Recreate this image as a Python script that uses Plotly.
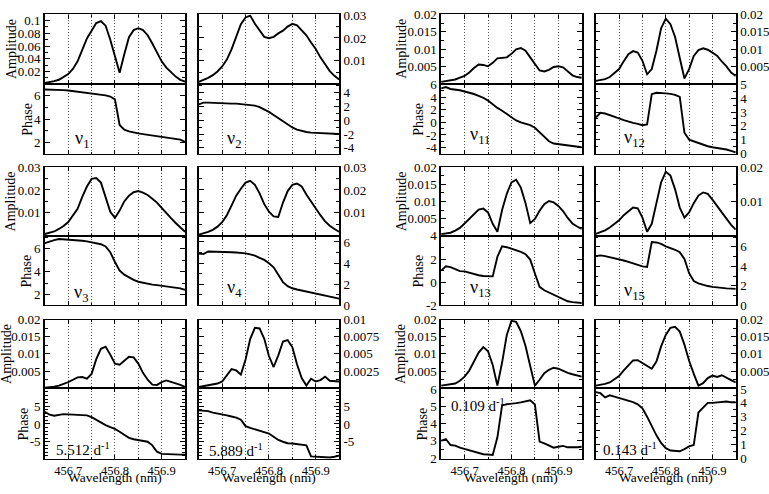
import plotly.graph_objects as go

# ---------------- data (wavelength grid, nm) ----------------
WAVELENGTH = [456.65, 456.66, 456.67, 456.68, 456.69, 456.70, 456.71, 456.72, 456.73, 456.74,
              456.75, 456.76, 456.77, 456.78, 456.79, 456.80, 456.81, 456.82, 456.83, 456.84,
              456.85, 456.86, 456.87, 456.88, 456.89, 456.90, 456.91, 456.92, 456.93, 456.94, 456.95]

amp_nu1 = [0.002, 0.003, 0.005, 0.007, 0.011, 0.016, 0.024, 0.036, 0.054, 0.072, 0.084, 0.096, 0.099, 0.092, 0.07,
           0.042, 0.018, 0.047, 0.074, 0.085, 0.088, 0.085, 0.077, 0.064, 0.049, 0.036, 0.026, 0.019, 0.012, 0.007, 0.004]
phase_nu1 = [6.55, 6.55, 6.53, 6.52, 6.5, 6.47, 6.42, 6.37, 6.32, 6.28, 6.24, 6.18, 6.12, 6.05, 5.95,
             5.7, 3.5, 3.1, 2.95, 2.85, 2.78, 2.72, 2.66, 2.6, 2.55, 2.5, 2.45, 2.4, 2.35, 2.25, 2.05]

amp_nu2 = [0.0008, 0.0016, 0.0025, 0.0037, 0.0053, 0.0075, 0.0105, 0.015, 0.021, 0.026, 0.029, 0.0298, 0.0262, 0.0235, 0.0205,
           0.0199, 0.0205, 0.022, 0.0232, 0.025, 0.0262, 0.0255, 0.0235, 0.0212, 0.018, 0.0152, 0.0115, 0.0082, 0.0055, 0.0034, 0.0018]
phase_nu2 = [2.3, 2.55, 2.55, 2.5, 2.5, 2.45, 2.45, 2.4, 2.4, 2.35, 2.3, 2.22, 2.12, 1.9, 1.6,
             1.2, 0.75, 0.3, -0.2, -0.65, -1.05, -1.35, -1.55, -1.7, -1.8, -1.85, -1.88, -1.9, -1.92, -1.95, -2.0]

amp_nu11 = [0.0005, 0.0007, 0.0009, 0.0012, 0.0017, 0.0022, 0.0032, 0.0045, 0.0055, 0.0054, 0.005, 0.006, 0.0073, 0.0075, 0.0076,
            0.0086, 0.0099, 0.0103, 0.0095, 0.0076, 0.0055, 0.0038, 0.0035, 0.004, 0.0048, 0.005, 0.0047, 0.0034, 0.0024, 0.0019, 0.0017]
phase_nu11 = [5.4, 5.6, 5.3, 5.25, 5.1, 4.9, 4.75, 4.5, 4.2, 3.9, 3.45, 2.85, 2.3, 1.85, 1.35,
              0.8, 0.3, 0.0, -0.2, -0.45, -0.85, -1.6, -2.35, -3.0, -3.35, -3.45, -3.6, -3.75, -3.85, -3.9, -3.95]

amp_nu12 = [0.0008, 0.001, 0.0013, 0.0019, 0.003, 0.0042, 0.0065, 0.0085, 0.0094, 0.009, 0.0066, 0.0027, 0.0042, 0.0095, 0.016,
            0.0188, 0.0172, 0.0135, 0.0074, 0.0015, 0.0042, 0.008, 0.0097, 0.0102, 0.0098, 0.009, 0.0081, 0.0064, 0.005, 0.0032, 0.0022]
phase_nu12 = [2.6, 2.95, 2.9, 2.8, 2.65, 2.55, 2.42, 2.3, 2.22, 2.15, 2.05, 2.1, 4.3, 4.4, 4.4,
              4.36, 4.32, 4.25, 4.1, 1.5, 1.0, 0.88, 0.75, 0.62, 0.52, 0.45, 0.4, 0.35, 0.28, 0.18, 0.07]

amp_nu3 = [0.0008, 0.0012, 0.0019, 0.003, 0.0043, 0.006, 0.0088, 0.0118, 0.017, 0.0215, 0.0248, 0.0252, 0.0232, 0.0165, 0.0105,
           0.0078, 0.011, 0.015, 0.0175, 0.019, 0.0195, 0.0188, 0.0178, 0.0162, 0.0145, 0.0122, 0.0098, 0.0077, 0.0056, 0.0035, 0.0018]
phase_nu3 = [6.5, 6.65, 6.75, 6.85, 6.83, 6.8, 6.78, 6.75, 6.7, 6.65, 6.58, 6.5, 6.4, 6.2, 5.7,
             4.85, 4.1, 3.75, 3.5, 3.3, 3.13, 3.03, 2.95, 2.88, 2.83, 2.78, 2.75, 2.65, 2.65, 2.55, 2.42]

amp_nu4 = [0.0005, 0.001, 0.0017, 0.0026, 0.004, 0.006, 0.009, 0.0132, 0.0175, 0.0205, 0.0232, 0.024, 0.0222, 0.0185, 0.0138,
           0.0105, 0.0085, 0.0082, 0.0145, 0.0195, 0.0222, 0.0228, 0.0215, 0.018, 0.0148, 0.0118, 0.009, 0.0063, 0.0044, 0.003, 0.0018]
phase_nu4 = [4.9, 4.85, 5.1, 5.1, 5.08, 5.07, 5.05, 5.03, 5.0, 4.97, 4.92, 4.82, 4.7, 4.5, 4.3,
             3.98, 3.6, 2.9, 2.2, 1.82, 1.62, 1.5, 1.4, 1.3, 1.23, 1.16, 1.05, 0.95, 0.85, 0.75, 0.64]

amp_nu13 = [0.0005, 0.0007, 0.0009, 0.0015, 0.0023, 0.0036, 0.005, 0.0063, 0.0076, 0.0079, 0.0068, 0.0035, 0.0012, 0.0075, 0.0122,
            0.0155, 0.0163, 0.014, 0.0095, 0.0037, 0.0049, 0.0073, 0.0092, 0.0101, 0.0097, 0.0087, 0.0072, 0.0052, 0.0036, 0.0027, 0.002]
phase_nu13 = [1.0, 1.38, 1.3, 1.1, 0.95, 0.93, 0.8, 0.7, 0.6, 0.53, 0.5, 0.5, 2.2, 3.1, 3.02,
              2.9, 2.75, 2.62, 2.42, 1.95, 0.75, -0.4, -0.7, -0.9, -1.1, -1.3, -1.5, -1.65, -1.72, -1.78, -1.8]

amp_nu15 = [0.0006, 0.001, 0.0016, 0.0024, 0.0035, 0.0045, 0.006, 0.0072, 0.0082, 0.008, 0.0053, 0.0012, 0.0035, 0.0095, 0.0155,
            0.0186, 0.0175, 0.0135, 0.0082, 0.0053, 0.0068, 0.0095, 0.0117, 0.0126, 0.0122, 0.0105, 0.0088, 0.0068, 0.005, 0.0032, 0.0018]
phase_nu15 = [5.05, 5.12, 5.05, 4.95, 4.85, 4.73, 4.6, 4.45, 4.3, 4.15, 4.0, 3.95, 6.5, 6.45, 6.3,
              6.05, 5.9, 5.7, 5.45, 4.75, 3.3, 2.5, 2.25, 2.08, 1.98, 1.9, 1.83, 1.78, 1.74, 1.72, 1.69]

amp_f5512 = [0.0002, 0.0003, 0.0005, 0.0008, 0.0012, 0.0018, 0.0025, 0.0032, 0.0033, 0.0028, 0.0042, 0.0085, 0.0115, 0.0121, 0.0098,
             0.0072, 0.0069, 0.0082, 0.0092, 0.009, 0.0072, 0.0045, 0.0025, 0.0011, 0.001, 0.0018, 0.0023, 0.0019, 0.0015, 0.001, 0.0004]
phase_f5512 = [3.4, 2.6, 2.3, 2.55, 2.75, 2.7, 2.65, 2.6, 2.55, 2.4, 1.9, 1.1, 0.3, -0.3, -0.9,
               -1.4, -2.2, -3.1, -3.9, -4.3, -4.5, -4.65, -5.0, -6.0, -7.8, -8.4, -8.5, -8.55, -8.6, -8.6, -8.6]

amp_f5889 = [0.0002, 0.0003, 0.0004, 0.0005, 0.0007, 0.001, 0.0019, 0.0028, 0.0026, 0.002, 0.0042, 0.0072, 0.0088, 0.0087, 0.0072,
             0.0047, 0.0031, 0.0048, 0.0068, 0.007, 0.006, 0.0035, 0.0015, 0.0004, 0.0014, 0.001, 0.0012, 0.0017, 0.0011, 0.001, 0.001]
phase_f5889 = [3.8, 3.8, 3.6, 3.2, 3.0, 2.7, 2.4, 2.1, 1.8, 1.2, -0.6, -1.1, -1.5, -1.8, -2.1,
               -2.7, -3.6, -4.5, -5.0, -5.4, -5.5, -5.6, -5.75, -6.0, -9.1, -9.2, -9.3, -9.4, -9.4, -9.2, -8.9]

amp_f0109 = [0.0008, 0.001, 0.0012, 0.0014, 0.0022, 0.0034, 0.0052, 0.0077, 0.0104, 0.012, 0.0108, 0.0068, 0.0008, 0.0075, 0.0155,
             0.0196, 0.0193, 0.0166, 0.0123, 0.0065, 0.0008, 0.0025, 0.0044, 0.0054, 0.006, 0.0057, 0.005, 0.0045, 0.0041, 0.0037, 0.0034]
phase_f0109 = [3.0, 3.1, 2.75, 2.72, 2.6, 2.52, 2.45, 2.35, 2.28, 2.22, 2.2, 2.18, 3.2, 5.05, 5.12,
               5.14, 5.18, 5.23, 5.28, 5.35, 5.1, 2.95, 2.85, 2.72, 2.6, 2.65, 2.7, 2.62, 2.6, 2.62, 2.65]

amp_f0143 = [0.0008, 0.001, 0.0013, 0.0017, 0.0026, 0.0036, 0.0052, 0.0068, 0.0081, 0.0082, 0.0074, 0.0064, 0.0057, 0.0078, 0.0122,
             0.0155, 0.0176, 0.0179, 0.0165, 0.0127, 0.008, 0.0042, 0.0008, 0.0015, 0.003, 0.0037, 0.0033, 0.0038, 0.003, 0.0024, 0.0017]
phase_f0143 = [4.78, 4.7, 4.4, 4.55, 4.45, 4.35, 4.25, 4.18, 4.05, 3.9, 3.6, 3.0, 2.3, 1.65, 1.1,
               0.72, 0.55, 0.5, 0.5, 0.65, 0.85, 0.95, 3.3, 3.65, 4.0, 4.0, 4.05, 4.1, 4.1, 4.05, 4.05]

panel_labels = ["ν<sub>1</sub>", "ν<sub>2</sub>", "ν<sub>11</sub>", "ν<sub>12</sub>",
                "ν<sub>3</sub>", "ν<sub>4</sub>", "ν<sub>13</sub>", "ν<sub>15</sub>"]
freq_labels = ["5.512 d<sup>-1</sup>", "5.889 d<sup>-1</sup>", "0.109 d<sup>-1</sup>", "0.143 d<sup>-1</sup>"]
x_ticks = [456.7, 456.8, 456.9]
x_ticktext = ["456.7", "456.8", "456.9"]

# ---------------- layout geometry (pixels) ----------------
W, H = 769, 494
COLS = [(45.0, 185.5), (199.3, 340.0), (442.3, 583.3), (597.3, 737.7)]
ROWS = [(7.7, 79.0, 151.7), (165.0, 236.0, 307.7), (322.3, 393.3, 466.0)]
FONT = "Liberation Serif, Times New Roman, serif"
TICK_SIZE = 13


def yspec(lo, hi, vals, texts, minor):
    return dict(range=[lo, hi], vals=vals, texts=texts, minor=minor)


amp3 = ([0.005, 0.01, 0.015, 0.02], ["0.005", "0.01", "0.015", "0.02"])
panels = [
    (0, 0, amp_nu1, phase_nu1, yspec(0.001, 0.1096, [0.02, 0.04, 0.06, 0.08, 0.1], ["0.02", "0.04", "0.06", "0.08", "0.1"], 0.01),
     yspec(1.0, 7.06, [2, 4, 6], ["2", "4", "6"], 1)),
    (0, 1, amp_nu2, phase_nu2, yspec(0, 0.0303, [0.01, 0.02, 0.03], ["0.01", "0.02", "0.03"], 0.005),
     yspec(-4.9, 5.3, [-4, -2, 0, 2, 4], ["-4", "-2", "0", "2", "4"], 1)),
    (0, 2, amp_nu11, phase_nu11, yspec(0, 0.02, *amp3, 0.0025),
     yspec(-5.03, 6.15, [-4, -2, 0, 2, 4, 6], ["-4", "-2", "0", "2", "4", "6"], 1)),
    (0, 3, amp_nu12, phase_nu12, yspec(0, 0.02, *amp3, 0.0025),
     yspec(-0.05, 5.07, [0, 1, 2, 3, 4, 5], ["0", "1", "2", "3", "4", "5"], 0.5)),
    (1, 0, amp_nu3, phase_nu3, yspec(0, 0.03, [0.01, 0.02, 0.03], ["0.01", "0.02", "0.03"], 0.005),
     yspec(1.07, 7.13, [2, 4, 6], ["2", "4", "6"], 1)),
    (1, 1, amp_nu4, phase_nu4, yspec(0, 0.03, [0.01, 0.02, 0.03], ["0.01", "0.02", "0.03"], 0.005),
     yspec(0, 6.58, [0, 2, 4, 6], ["0", "2", "4", "6"], 1)),
    (1, 2, amp_nu13, phase_nu13, yspec(0, 0.02, *amp3, 0.0025),
     yspec(-2, 4, [-2, 0, 2, 4], ["-2", "0", "2", "4"], 1)),
    (1, 3, amp_nu15, phase_nu15, yspec(0, 0.02, [0.01, 0.02], ["0.01", "0.02"], 0.005),
     yspec(0, 7.13, [0, 2, 4, 6], ["0", "2", "4", "6"], 1)),
    (2, 0, amp_f5512, phase_f5512, yspec(0, 0.02, *amp3, 0.0025),
     yspec(-9.8, 10, [-5, 0, 5], ["-5", "0", "5"], 1)),
    (2, 1, amp_f5889, phase_f5889, yspec(0, 0.01, [0.0025, 0.005, 0.0075, 0.01], ["0.0025", "0.005", "0.0075", "0.01"], 0.00125),
     yspec(-9.8, 10, [-5, 0, 5], ["-5", "0", "5"], 1)),
    (2, 2, amp_f0109, phase_f0109, yspec(0, 0.02, *amp3, 0.0025),
     yspec(1.95, 6.04, [2, 3, 4, 5, 6], ["2", "3", "4", "5", "6"], 0.5)),
    (2, 3, amp_f0143, phase_f0143, yspec(0, 0.02, *amp3, 0.0025),
     yspec(-0.05, 5.05, [0, 1, 2, 3, 4, 5], ["0", "1", "2", "3", "4", "5"], 0.5)),
]

fig = go.Figure()
layout = {}
n = 0


def add_panel(values, xdom, ydom, spec, side, show_xlabels):
    global n
    n += 1
    sfx = "" if n == 1 else str(n)
    fig.add_trace(go.Scatter(x=WAVELENGTH, y=values, mode="lines",
                             line=dict(color="black", width=1.9),
                             xaxis="x" + sfx, yaxis="y" + sfx,
                             showlegend=False, hoverinfo="skip"))
    layout["xaxis" + sfx] = dict(
        domain=[xdom[0] / W, xdom[1] / W], anchor="y" + sfx, range=[456.65, 456.95],
        tickmode="array", tickvals=x_ticks, ticktext=x_ticktext,
        showticklabels=show_xlabels, ticks="inside", ticklen=4, tickwidth=1, tickcolor="black",
        showline=True, linecolor="black", linewidth=1.2, mirror="allticks",
        showgrid=True, gridcolor="#555555", gridwidth=1, griddash="1px,2px", zeroline=False,
        minor=dict(tick0=456.7, dtick=0.05, ticks="inside", ticklen=2, tickcolor="black",
                   showgrid=True, gridcolor="#555555", gridwidth=1, griddash="1px,2px"),
        tickfont=dict(family=FONT, size=12.5, color="black"), fixedrange=True)
    layout["yaxis" + sfx] = dict(
        domain=[1 - ydom[1] / H, 1 - ydom[0] / H], anchor="x" + sfx, side=side,
        range=spec["range"], tickmode="array", tickvals=spec["vals"], ticktext=spec["texts"],
        ticks="inside", ticklen=5, tickwidth=1, tickcolor="black",
        showline=True, linecolor="black", linewidth=1.5, mirror="allticks",
        showgrid=False, zeroline=False,
        minor=dict(tick0=0, dtick=spec["minor"], ticks="inside", ticklen=3, tickcolor="black", showgrid=False),
        tickfont=dict(family=FONT, size=TICK_SIZE, color="black"), fixedrange=True)


for (r, c, amp, ph, aspec, pspec) in panels:
    top, mid, bot = ROWS[r]
    side = "left" if c in (0, 2) else "right"
    add_panel(amp, COLS[c], (top, mid), aspec, side, False)
    add_panel(ph, COLS[c], (mid, bot), pspec, side, r == 2)

annotations = []


def ann(text, px, py, size, xanchor="center", angle=0, yanchor="middle"):
    annotations.append(dict(text=text, x=px / W, y=1 - py / H, xref="paper", yref="paper",
                            xanchor=xanchor, yanchor=yanchor, showarrow=False, textangle=angle,
                            borderpad=0,
                            font=dict(family=FONT, size=size, color="black")))


# axis titles
amp_title_x = [[11, 401.7], [10, 402], [7, 402]]
phase_title_x = [[28, 420], [27, 420], [24, 424]]
for r, (top, mid, bot) in enumerate(ROWS):
    for k in range(2):
        ann("Amplitude", amp_title_x[r][k], (top + mid) / 2, 14, angle=-90)
        ann("Phase", phase_title_x[r][k], (mid + bot) / 2, 14, angle=-90)

# mode labels
nu_pos = [(74, 137), (226.7, 137), (470, 133), (624.3, 136),
          (73.3, 295), (226.7, 290), (470, 290), (624.3, 293)]
for lab, (px, py) in zip(panel_labels, nu_pos):
    ann(lab, px, py, 18, xanchor="left")

freq_pos = [(55, 456), (208.3, 456.7), (451, 410), (603.3, 455.7)]
for lab, (px, py) in zip(freq_labels, freq_pos):
    ann(lab, px, py, 15, xanchor="left")

for c in range(4):
    ann("Wavelength (nm)", (COLS[c][0] + COLS[c][1]) / 2, 494, 13.5, yanchor="bottom")

fig.update_layout(width=W, height=H, margin=dict(l=0, r=0, t=0, b=0, pad=0),
                  paper_bgcolor="white", plot_bgcolor="white",
                  annotations=annotations, **layout)
fig.write_html("out.html")
